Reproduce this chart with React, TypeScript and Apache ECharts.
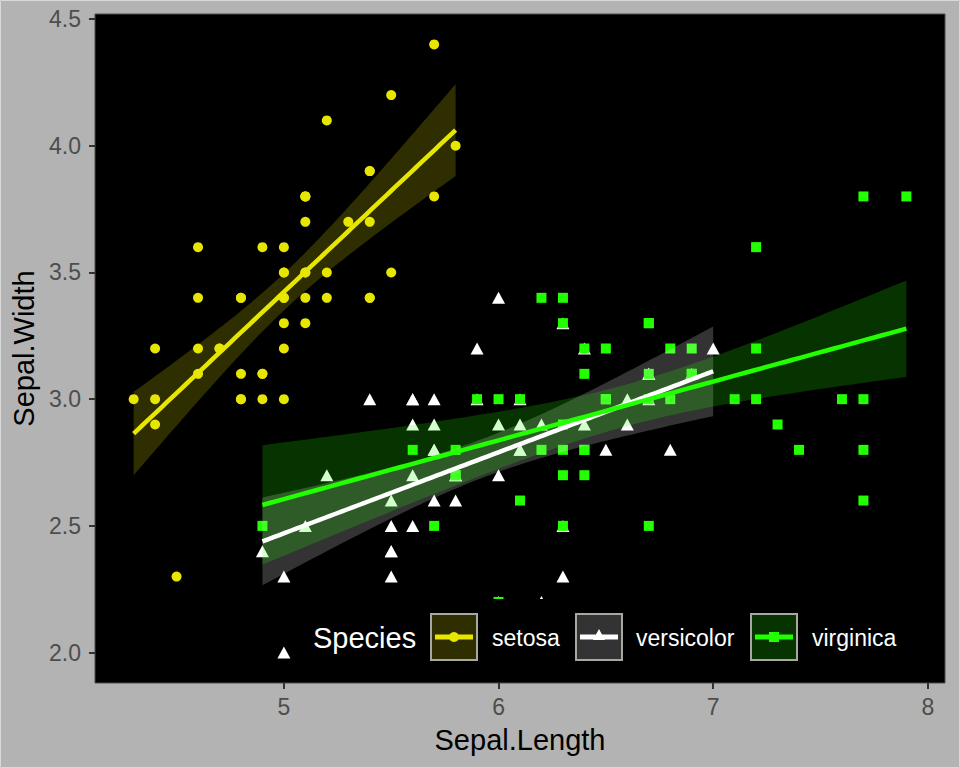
import React, { useEffect, useRef } from "react";
import * as echarts from "echarts";

const setosaX = [5.1,4.9,4.7,4.6,5.0,5.4,4.6,5.0,4.4,4.9,5.4,4.8,4.8,4.3,5.8,5.7,5.4,5.1,5.7,5.1,5.4,5.1,4.6,5.1,4.8,5.0,5.0,5.2,5.2,4.7,4.8,5.4,5.2,5.5,4.9,5.0,5.5,4.9,4.4,5.1,5.0,4.5,4.4,5.0,5.1,4.8,5.1,4.6,5.3,5.0];
const setosaY = [3.5,3.0,3.2,3.1,3.6,3.9,3.4,3.4,2.9,3.1,3.7,3.4,3.0,3.0,4.0,4.4,3.9,3.5,3.8,3.8,3.4,3.7,3.6,3.3,3.4,3.0,3.4,3.5,3.4,3.2,3.1,3.4,4.1,4.2,3.1,3.2,3.5,3.6,3.0,3.4,3.5,2.3,3.2,3.5,3.8,3.0,3.8,3.2,3.7,3.3];
const versicolorX = [7.0,6.4,6.9,5.5,6.5,5.7,6.3,4.9,6.6,5.2,5.0,5.9,6.0,6.1,5.6,6.7,5.6,5.8,6.2,5.6,5.9,6.1,6.3,6.1,6.4,6.6,6.8,6.7,6.0,5.7,5.5,5.5,5.8,6.0,5.4,6.0,6.7,6.3,5.6,5.5,5.5,6.1,5.8,5.0,5.6,5.7,5.7,6.2,5.1,5.7];
const versicolorY = [3.2,3.2,3.1,2.3,2.8,2.8,3.3,2.4,2.9,2.7,2.0,3.0,2.2,2.9,2.9,3.1,3.0,2.7,2.2,2.5,3.2,2.8,2.5,2.8,2.9,3.0,2.8,3.0,2.9,2.6,2.4,2.4,2.7,2.7,3.0,3.4,3.1,2.3,3.0,2.5,2.6,3.0,2.6,2.3,2.7,3.0,2.9,2.9,2.5,2.8];
const virginicaX = [6.3,5.8,7.1,6.3,6.5,7.6,4.9,7.3,6.7,7.2,6.5,6.4,6.8,5.7,5.8,6.4,6.5,7.7,7.7,6.0,6.9,5.6,7.7,6.3,6.7,7.2,6.2,6.1,6.4,7.2,7.4,7.9,6.4,6.3,6.1,7.7,6.3,6.4,6.0,6.9,6.7,6.9,5.8,6.8,6.7,6.7,6.3,6.5,6.2,5.9];
const virginicaY = [3.3,2.7,3.0,2.9,3.0,3.0,2.5,2.9,2.5,3.6,3.2,2.7,3.0,2.5,2.8,3.2,3.0,3.8,2.6,2.2,3.2,2.8,2.8,2.7,3.3,3.2,2.8,3.0,2.8,3.0,2.8,3.8,2.8,2.8,2.6,3.0,3.4,3.1,3.0,3.1,3.1,3.1,2.7,3.2,3.3,3.0,2.5,3.0,3.4,3.0];

const speciesNames = ["setosa", "versicolor", "virginica"];
const pointColors = ["#E6E600", "#FFFFFF", "#22FF00"];
const bandKeyFills = ["#2E2E00", "#333333", "#073300"];
const symbols = ["circle", "triangle", "rect"];
const symbolSizes: any[] = [10, [13, 12], 10];
const xTicks = [5, 6, 7, 8];
const yTicks = [2.0, 2.5, 3.0, 3.5, 4.0, 4.5];

const T975 = 2.010635; // t quantile, df = 48

function fitBand(xs: number[], ys: number[]) {
  const n = xs.length;
  const mx = xs.reduce((a, b) => a + b, 0) / n;
  const my = ys.reduce((a, b) => a + b, 0) / n;
  let sxx = 0, sxy = 0;
  for (let i = 0; i < n; i++) {
    sxx += (xs[i] - mx) ** 2;
    sxy += (xs[i] - mx) * (ys[i] - my);
  }
  const b = sxy / sxx;
  const a = my - b * mx;
  let sse = 0;
  for (let i = 0; i < n; i++) sse += (ys[i] - a - b * xs[i]) ** 2;
  const s = Math.sqrt(sse / (n - 2));
  const x0 = Math.min(...xs), x1 = Math.max(...xs);
  const upper: number[][] = [], lower: number[][] = [], line: number[][] = [];
  const K = 80;
  for (let k = 0; k <= K; k++) {
    const x = x0 + ((x1 - x0) * k) / K;
    const yh = a + b * x;
    const se = s * Math.sqrt(1 / n + (x - mx) ** 2 / sxx);
    upper.push([x, yh + T975 * se]);
    lower.push([x, yh - T975 * se]);
    line.push([x, yh]);
  }
  return { upper, lower, line };
}

export default function App() {
  const ref = useRef<HTMLDivElement>(null);
  useEffect(() => {
    const chart = echarts.init(ref.current!, null, { renderer: "svg" });
    const groups = [
      [setosaX, setosaY],
      [versicolorX, versicolorY],
      [virginicaX, virginicaY],
    ];
    const fits = groups.map(([xs, ys]) => fitBand(xs, ys));
    const font = "Liberation Sans";

    const scatterSeries = groups.map(([xs, ys], i) => ({
      type: "scatter",
      name: speciesNames[i],
      data: xs.map((x, j) => [x, ys[j]]),
      symbol: symbols[i],
      symbolSize: symbolSizes[i],
      itemStyle: { color: pointColors[i], opacity: 1 },
      z: 2,
      silent: true,
    }));

    const smoothSeries: any[] = [];
    fits.forEach((f, i) => {
      smoothSeries.push({
        type: "custom",
        name: speciesNames[i] + "-band",
        data: [0],
        z: 3,
        silent: true,
        renderItem: (params: any, api: any) => {
          const pts = f.upper
            .concat(f.lower.slice().reverse())
            .map((p) => api.coord(p));
          return {
            type: "polygon",
            shape: { points: pts },
            style: { fill: pointColors[i], opacity: 0.2, stroke: "none" },
          };
        },
      });
      smoothSeries.push({
        type: "line",
        name: speciesNames[i] + "-fit",
        data: f.line,
        showSymbol: false,
        symbol: "none",
        lineStyle: { color: pointColors[i], width: 4.5 },
        z: 3,
        silent: true,
      });
    });

    // legend graphics
    const Z = 100;
    const lgTop = 599, lgBottom = 683;
    const keyY = 613, keySize = 48;
    const keyX = [430, 575, 750];
    const labelX = [492, 636, 812];
    const legendEls: any[] = [
      { type: "rect", z: Z, shape: { x: 295, y: lgTop, width: 649, height: lgBottom - lgTop - 1 }, style: { fill: "#000000" } },
      { type: "text", z: Z + 1, x: 313, y: 638, style: { text: "Species", fill: "#FFFFFF", font: `29px "${font}"`, verticalAlign: "middle" } },
    ];
    speciesNames.forEach((nm, i) => {
      const kx = keyX[i];
      legendEls.push({
        type: "rect",
        z: Z + 1,
        shape: { x: kx + 1, y: keyY + 1, width: keySize - 2, height: keySize - 2 },
        style: { fill: bandKeyFills[i], stroke: "#A8A8A0", lineWidth: 2 },
      });
      legendEls.push({
        type: "line",
        z: Z + 2,
        shape: { x1: kx + 5, y1: keyY + 24, x2: kx + 43, y2: keyY + 24 },
        style: { stroke: pointColors[i], lineWidth: 5 },
      });
      if (i === 0) {
        legendEls.push({ type: "circle", z: Z + 3, shape: { cx: kx + 24, cy: keyY + 24, r: 5 }, style: { fill: pointColors[i] } });
      } else if (i === 1) {
        legendEls.push({ type: "polygon", z: Z + 3, shape: { points: [[kx + 24, keyY + 16], [kx + 30, keyY + 27], [kx + 18, keyY + 27]] }, style: { fill: pointColors[i] } });
      } else {
        legendEls.push({ type: "rect", z: Z + 3, shape: { x: kx + 19, y: keyY + 19, width: 10, height: 10 }, style: { fill: pointColors[i] } });
      }
      legendEls.push({
        type: "text",
        z: Z + 1,
        x: labelX[i],
        y: 638,
        style: { text: nm, fill: "#FFFFFF", font: `23px "${font}"`, verticalAlign: "middle" },
      });
    });

    chart.setOption({
      animation: false,
      backgroundColor: "#B3B3B3",
      textStyle: { fontFamily: font },
      grid: {
        left: 95, right: 15, top: 14, bottom: 85,
        show: true, backgroundColor: "#000000", borderColor: "#4D4D4D", borderWidth: 1,
      },
      xAxis: {
        type: "value",
        min: 4.12, max: 8.08,
        name: "Sepal.Length",
        nameLocation: "middle",
        nameGap: 42,
        nameTextStyle: { color: "#000000", fontSize: 29, fontFamily: font },
        splitLine: { show: false },
        axisLine: { show: false },
        axisTick: { show: true, length: 6, lineStyle: { color: "#333333", width: 2 }, customValues: xTicks },
        axisLabel: { color: "#4D4D4D", fontSize: 23, margin: 12, customValues: xTicks, formatter: (v: number) => String(v) },
      },
      yAxis: {
        type: "value",
        min: 1.88, max: 4.52,
        name: "Sepal.Width",
        nameLocation: "middle",
        nameGap: 56,
        nameRotate: 90,
        nameTextStyle: { color: "#000000", fontSize: 29, fontFamily: font },
        splitLine: { show: false },
        axisLine: { show: false },
        axisTick: { show: true, length: 6, lineStyle: { color: "#333333", width: 2 }, customValues: yTicks },
        axisLabel: { color: "#4D4D4D", fontSize: 23, margin: 14, customValues: yTicks, formatter: (v: number) => v.toFixed(1) },
      },
      series: [...scatterSeries, ...smoothSeries],
      graphic: [
        ...legendEls,
        { type: "rect", z: 110, shape: { x: 0.5, y: 0.5, width: 959, height: 767 }, style: { fill: "none", stroke: "#D9D9D9", lineWidth: 1 } },
      ],
    });
    return () => chart.dispose();
  }, []);
  return <div ref={ref} style={{ position: "fixed", left: 0, top: 0, width: 960, height: 768 }} />;
}
